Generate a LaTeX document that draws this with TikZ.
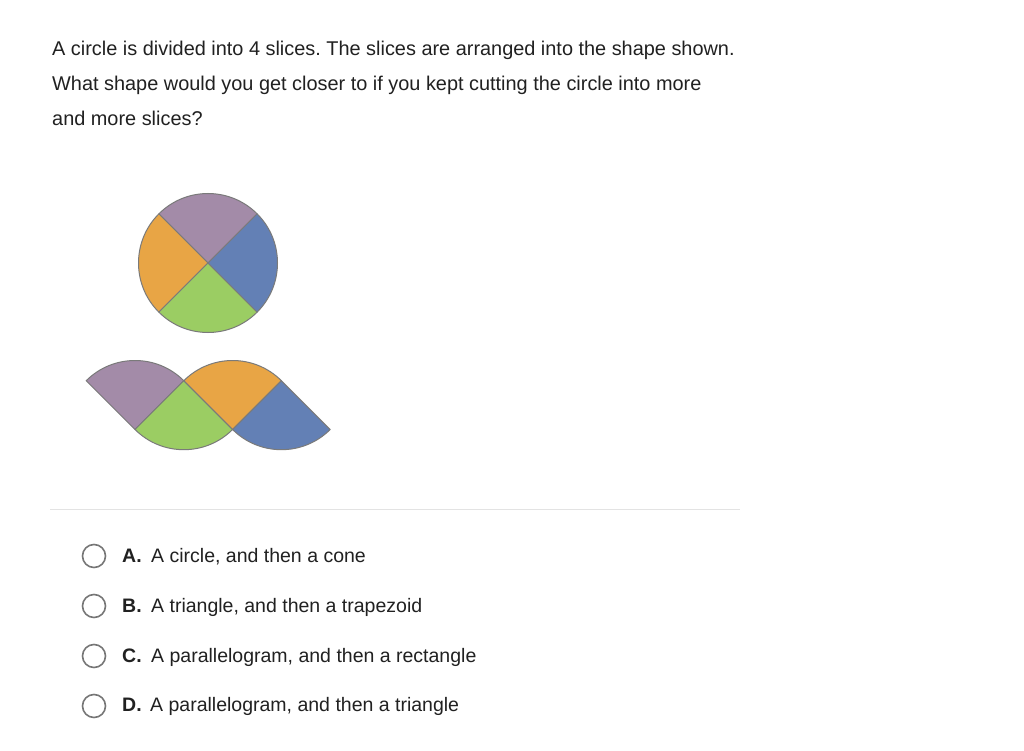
\documentclass[tikz,border=0pt]{standalone}
\usepackage{fontspec}
\setmainfont{Liberation Sans}
\frenchspacing
\begin{document}
\begin{tikzpicture}[x=1pt,y=1pt,
  txt/.style={anchor=base west,inner sep=0pt,text=textgray,font=\fontsize{19.5}{23}\selectfont},
  qtxt/.style={txt,font=\fontsize{19.9}{23}\selectfont},
  radio/.style={circle,draw=radiogray,line width=1.6pt,minimum size=23pt,inner sep=0pt},
  slice/.style={draw=edgegray,line width=1pt,line join=round}]
\definecolor{textgray}{HTML}{212121}
\definecolor{radiogray}{HTML}{767676}
\definecolor{edgegray}{HTML}{7A7A7A}
\definecolor{rulegray}{HTML}{E3E3E3}
\definecolor{spurple}{HTML}{A38BA8}
\definecolor{sorange}{HTML}{E8A545}
\definecolor{sblue}{HTML}{6380B5}
\definecolor{sgreen}{HTML}{9BCD63}
\useasboundingbox[fill=white] (0,0) rectangle (1024,-751);
% question
\node[qtxt] (q1) at (52,-56) {A circle is divided into 4 slices. The slices are arranged into the shape shown.};
\node[qtxt] (q2) at (52,-91) {What shape would you get closer to if you kept cutting the circle into more};
\node[qtxt] (q3) at (52,-126) {and more slices?};
% circle
\def\R{69.5}
\coordinate (C) at (208,-263);
\filldraw[slice,fill=spurple] (C) -- ++(45:\R) arc[start angle=45,end angle=135,radius=\R] -- cycle;
\filldraw[slice,fill=sorange] (C) -- ++(135:\R) arc[start angle=135,end angle=225,radius=\R] -- cycle;
\filldraw[slice,fill=sgreen] (C) -- ++(225:\R) arc[start angle=225,end angle=315,radius=\R] -- cycle;
\filldraw[slice,fill=sblue] (C) -- ++(-45:\R) arc[start angle=-45,end angle=45,radius=\R] -- cycle;
% rearranged
\def\r{69}
\coordinate (P1) at (135,-429.5);
\coordinate (P2) at (183.8,-380.7);
\coordinate (P3) at (232.6,-429.5);
\coordinate (P4) at (281.4,-380.7);
\filldraw[slice,fill=spurple] (P1) -- ++(45:\r) arc[start angle=45,end angle=135,radius=\r] -- cycle;
\filldraw[slice,fill=sgreen] (P2) -- ++(225:\r) arc[start angle=225,end angle=315,radius=\r] -- cycle;
\filldraw[slice,fill=sorange] (P3) -- ++(45:\r) arc[start angle=45,end angle=135,radius=\r] -- cycle;
\filldraw[slice,fill=sblue] (P4) -- ++(225:\r) arc[start angle=225,end angle=315,radius=\r] -- cycle;
% rule
\coordinate (L1) at (50,-509);
\coordinate (L2) at (740,-509);
\draw[rulegray,line width=1pt] (L1) -- (L2);
% choices
\node[radio] (ra) at (94,-556) {};
\node[radio] (rb) at (94,-606) {};
\node[radio] (rc) at (94,-656) {};
\node[radio] (rd) at (94,-706) {};
\node[txt] (ka) at (122,-562.5) {\textbf{A.}};
\node[txt] (kb) at (122,-612.5) {\textbf{B.}};
\node[txt] (kc) at (122,-662.5) {\textbf{C.}};
\node[txt] (kd) at (122,-711.5) {\textbf{D.}};
\node[txt] (la) at (151,-562.5) {A circle, and then a cone};
\node[txt] (lb) at (151,-612.5) {A triangle, and then a trapezoid};
\node[txt] (lc) at (151,-662.5) {A parallelogram, and then a rectangle};
\node[txt] (ld) at (150,-711.5) {A parallelogram, and then a triangle};
\end{tikzpicture}
\end{document}
